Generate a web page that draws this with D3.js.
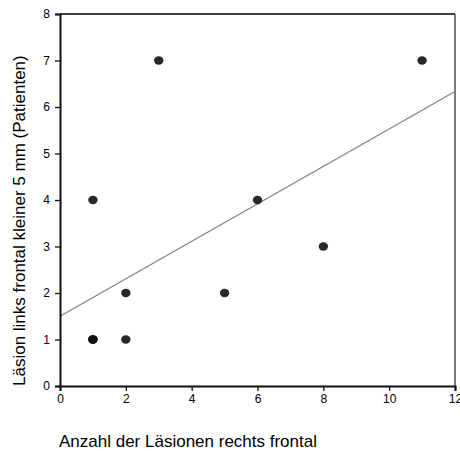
<!DOCTYPE html>
<html>
<head>
<meta charset="utf-8">
<script src="https://cdn.jsdelivr.net/npm/d3@7"></script>
<style>
  body { margin: 0; background: #fff; }
  text { font-family: Arial, "Liberation Sans", sans-serif; }
</style>
</head>
<body>
<div id="chart"></div>
<script>
// Läsionen: x = rechts frontal, y = links frontal < 5 mm (3 Patienten bei 1/1)
const lesionsRight = [1, 1, 1, 1, 2, 2, 3, 5, 6, 8, 11];
const lesionsLeft  = [1, 1, 1, 4, 2, 1, 7, 2, 4, 3, 7];
const xTicks = [0, 2, 4, 6, 8, 10, 12];
const yTicks = [0, 1, 2, 3, 4, 5, 6, 7, 8];

const width = 460, height = 455;
const margin = { top: 14, right: 5, bottom: 69, left: 60 };

const svg = d3.select("#chart").append("svg")
  .attr("width", width)
  .attr("height", height);

const x = d3.scaleLinear().domain([0, 12]).range([margin.left, width - margin.right]);
const y = d3.scaleLinear().domain([0, 8]).range([height - margin.bottom, margin.top]);

// frame (top + right)
svg.append("line")
  .attr("x1", x(0)).attr("x2", x(12)).attr("y1", y(8)).attr("y2", y(8))
  .attr("stroke", "#000").attr("stroke-width", 1.5);
svg.append("line")
  .attr("x1", x(12)).attr("x2", x(12)).attr("y1", y(8)).attr("y2", y(0))
  .attr("stroke", "#333").attr("stroke-width", 1.3);

// least squares trend line
const n = lesionsRight.length;
const mx = d3.mean(lesionsRight), my = d3.mean(lesionsLeft);
let sxy = 0, sxx = 0;
for (let i = 0; i < n; i++) {
  sxy += (lesionsRight[i] - mx) * (lesionsLeft[i] - my);
  sxx += (lesionsRight[i] - mx) ** 2;
}
const slope = sxy / sxx, icpt = my - slope * mx;
svg.append("line")
  .attr("x1", x(0)).attr("y1", y(icpt))
  .attr("x2", x(12)).attr("y2", y(icpt + slope * 12))
  .attr("stroke", "#808080").attr("stroke-width", 1.2);

// axes
const xAxis = svg.append("g")
  .attr("transform", `translate(0,${y(0)})`)
  .call(d3.axisBottom(x).tickValues(xTicks).tickSize(5).tickPadding(3));
const yAxis = svg.append("g")
  .attr("transform", `translate(${x(0)},0)`)
  .call(d3.axisLeft(y).tickValues(yTicks).tickSize(5).tickPadding(5));

[xAxis, yAxis].forEach(g => {
  g.select(".domain").attr("stroke", "#111").attr("stroke-width", 2);
  g.selectAll(".tick line").attr("stroke", "#111").attr("stroke-width", 1.3);
  g.selectAll(".tick text").attr("font-size", 12).attr("fill", "#000")
    .style("font-family", "Arial, 'Liberation Sans', sans-serif");
});

// points
svg.append("g").selectAll("ellipse")
  .data(lesionsRight.map((d, i) => [d, lesionsLeft[i]]))
  .join("ellipse")
  .attr("cx", d => x(d[0]))
  .attr("cy", d => y(d[1]))
  .attr("rx", 4.7).attr("ry", 4.2)
  .attr("fill", "#111")
  .attr("fill-opacity", 0.9);

// titles
svg.append("text")
  .attr("x", 59).attr("y", 447)
  .attr("font-size", 17)
  .text("Anzahl der Läsionen rechts frontal");

svg.append("text")
  .attr("transform", `translate(25,386) rotate(-90)`)
  .attr("font-size", 17)
  .text("Läsion links frontal kleiner 5 mm (Patienten)");
</script>
</body>
</html>
